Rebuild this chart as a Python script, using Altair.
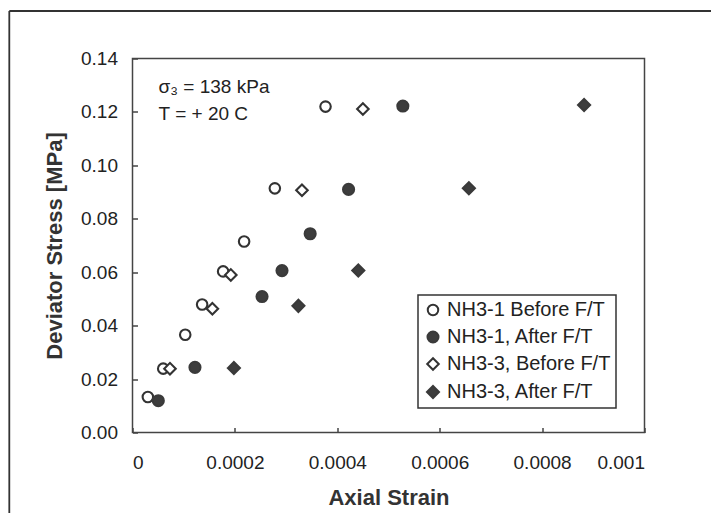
import altair as alt
import pandas as pd

# ---- data ----
series_names = ["NH3-1 Before F/T", "NH3-1, After F/T", "NH3-3, Before F/T", "NH3-3, After F/T"]

nh31_before_strain = [0.000030, 0.000060, 0.000103, 0.000136, 0.000177, 0.000218, 0.000278, 0.000377]
nh31_before_stress = [0.0133, 0.0239, 0.0366, 0.0479, 0.0603, 0.0715, 0.0914, 0.1220]

nh31_after_strain = [0.0000504, 0.000122, 0.000253, 0.000292, 0.000347, 0.000422, 0.000528]
nh31_after_stress = [0.0119, 0.0244, 0.0509, 0.0606, 0.0744, 0.0910, 0.1222]

nh33_before_strain = [0.0000732, 0.000156, 0.000192, 0.000331, 0.000450]
nh33_before_stress = [0.0239, 0.0463, 0.0590, 0.0907, 0.1211]

nh33_after_strain = [0.000198, 0.000324, 0.000441, 0.000657, 0.000882]
nh33_after_stress = [0.0241, 0.0474, 0.0606, 0.0914, 0.1226]

x_ticks = [0, 0.0002, 0.0004, 0.0006, 0.0008, 0.001]
y_ticks = [0, 0.02, 0.04, 0.06, 0.08, 0.10, 0.12, 0.14]

annot_text = ["σ₃ = 138 kPa", "T = + 20 C"]
annot_strain = [0.000051, 0.000051]
annot_stress = [0.1292, 0.1194]

# ---- build table ----
rows = []
for name, xs, ys in [
    (series_names[0], nh31_before_strain, nh31_before_stress),
    (series_names[2], nh33_before_strain, nh33_before_stress),
    (series_names[1], nh31_after_strain, nh31_after_stress),
    (series_names[3], nh33_after_strain, nh33_after_stress),
]:
    for x, y in zip(xs, ys):
        rows.append({"strain": x, "stress": y, "series": name})
df = pd.DataFrame(rows)

ann_df = pd.DataFrame({"strain": annot_strain, "stress": annot_stress, "label": annot_text})

FONT = "Liberation Sans"
DARK = "#222222"

legend = alt.Legend(
    title=None,
    orient="none",
    legendX=285.5,
    legendY=236.5,
    padding=5,
    strokeColor="#333",
    fillColor="white",
    labelFont=FONT,
    labelFontSize=20,
    labelColor=DARK,
    labelOffset=4,
    labelLimit=400,
    rowPadding=7,
    symbolStrokeWidth=2,
    symbolStrokeColor="#333",
)

x_enc = alt.X(
    "strain:Q",
    scale=alt.Scale(domain=[0, 0.001], nice=False, zero=True),
    axis=alt.Axis(
        values=x_ticks, format="~g", offset=-5, tickSize=5, tickColor="#444", tickWidth=1.5,
        domain=False, grid=False, labelFont=FONT, labelFontSize=19, labelColor=DARK,
        labelPadding=21, labelOverlap=False,
        title="Axial Strain", titleFont=FONT, titleFontSize=22, titleFontWeight="bold",
        titleColor="#333", titleY=69.5, titleBaseline="middle",
    ),
)
y_enc = alt.Y(
    "stress:Q",
    scale=alt.Scale(domain=[0, 0.14], nice=False, zero=True),
    axis=alt.Axis(
        values=y_ticks, format=".2f", offset=-5, tickSize=5, tickColor="#444", tickWidth=1.5,
        domain=False, grid=False, labelFont=FONT, labelFontSize=19, labelColor=DARK,
        labelPadding=15, labelOverlap=False,
        title="Deviator Stress [MPa]", titleFont=FONT, titleFontSize=22, titleFontWeight="bold",
        titleColor="#333", titleX=-83.5, titleY=187, titleBaseline="middle", titleAngle=270,
    ),
)

points = alt.Chart(df).mark_point(filled=True, strokeWidth=2.1, opacity=1).encode(
    x=x_enc,
    y=y_enc,
    shape=alt.Shape("series:N", scale=alt.Scale(domain=series_names,
                    range=["circle", "circle", "diamond", "diamond"]), legend=legend),
    fill=alt.Fill("series:N", scale=alt.Scale(domain=series_names,
                  range=["white", "#3d3d3d", "white", "#3d3d3d"]), legend=legend),
    stroke=alt.Stroke("series:N", scale=alt.Scale(domain=series_names,
                      range=["#333333", "#3a3a3a", "#333333", "#3a3a3a"]), legend=legend),
    size=alt.Size("series:N", scale=alt.Scale(domain=series_names,
                  range=[110, 145, 125, 185]), legend=legend),
)

annot = alt.Chart(ann_df).mark_text(
    align="left", baseline="middle", font=FONT, fontSize=19, color=DARK
).encode(x=alt.X("strain:Q"), y=alt.Y("stress:Q"), text="label:N")

one = pd.DataFrame({"k": [0]})
frame_top = alt.Chart(one).mark_rule(color="#333", strokeWidth=1.8).encode(
    x=alt.value(-123.2), x2=alt.value(700), y=alt.value(-47.5))
frame_left = alt.Chart(one).mark_rule(color="#333", strokeWidth=1.8).encode(
    x=alt.value(-123.2), y=alt.value(-47.5), y2=alt.value(480))

chart = alt.layer(frame_top, frame_left, points, annot).properties(
    width=512,
    height=374,
    padding={"left": 124.5, "top": 50.5, "right": 66, "bottom": 80},
    autosize=alt.AutoSizeParams(type="none"),
    background="white",
).configure_view(stroke="#444", strokeWidth=1.5).configure_legend(strokeWidth=1.5)

chart.save("out.html", embed_options={"renderer": "svg", "actions": False})
